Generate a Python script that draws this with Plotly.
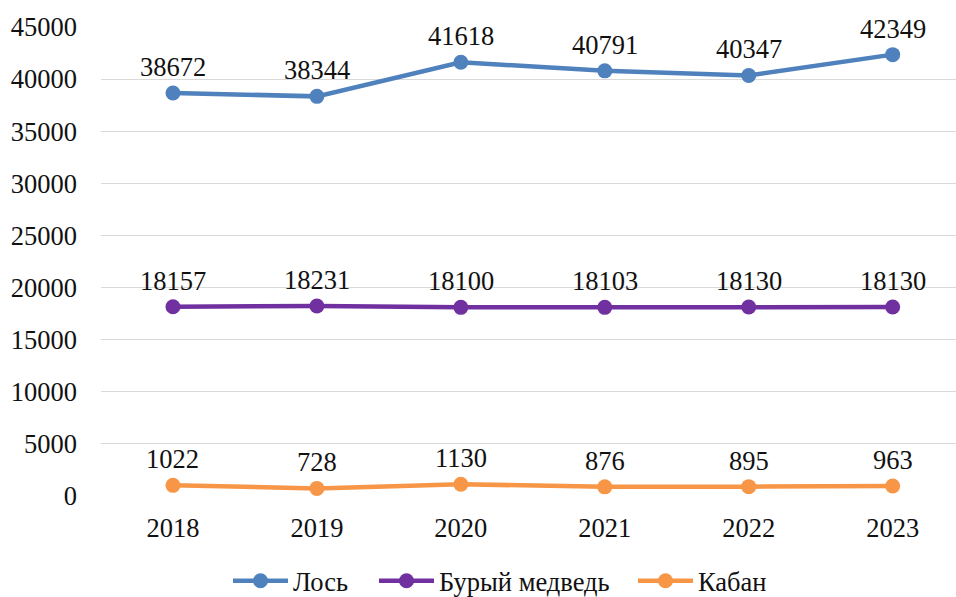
import plotly.graph_objects as go

years = ["2018", "2019", "2020", "2021", "2022", "2023"]
los = [38672, 38344, 41618, 40791, 40347, 42349]
medved = [18157, 18231, 18100, 18103, 18130, 18130]
kaban = [1022, 728, 1130, 876, 895, 963]
ytick_vals = [0, 5000, 10000, 15000, 20000, 25000, 30000, 35000, 40000, 45000]

series = [
    ("Лось", los, "#4F81BD", "legend", 228),
    ("Бурый медведь", medved, "#7030A0", "legend2", 374),
    ("Кабан", kaban, "#F79646", "legend3", 633),
]

FONT = "Liberation Serif, Times New Roman, serif"
FS = 26.5
TXT = "#111111"
fig = go.Figure()
xs = list(range(len(years)))
legends = {}
for name, vals, color, leg, lx in series:
    fig.add_trace(go.Scatter(
        x=xs, y=vals, name=name, mode="lines+markers",
        line=dict(color=color, width=4.5),
        marker=dict(color=color, size=15),
        legend=leg,
    ))
    legends[leg] = dict(orientation="h", xref="container", x=lx / 956, xanchor="left",
                        yref="container", y=1 - 581 / 597, yanchor="middle",
                        font=dict(family=FONT, size=FS, color=TXT), itemwidth=55,
                        bgcolor="rgba(0,0,0,0)")
    for xi, v in zip(xs, vals):
        fig.add_annotation(x=xi, y=v, text=str(v), showarrow=False,
                           xref="x", yref="y", yshift=26,
                           font=dict(family=FONT, size=FS, color=TXT))

fig.update_layout(
    width=956, height=597,
    margin=dict(l=101, r=0, t=27, b=101, autoexpand=False),
    plot_bgcolor="white", paper_bgcolor="white",
    font=dict(family=FONT, size=FS, color=TXT),
    showlegend=True,
    **legends,
)
fig.update_xaxes(
    tickmode="array", tickvals=xs, ticktext=years,
    range=[-0.5, 5.44], showgrid=False, zeroline=False, showline=False,
    ticks="", ticklabelstandoff=13,
    tickfont=dict(family=FONT, size=FS, color=TXT),
)
fig.update_yaxes(
    range=[0, 45000], tickmode="array", tickvals=ytick_vals,
    ticktext=[str(v) for v in ytick_vals],
    showgrid=True, gridcolor="#D9D9D9", gridwidth=1, zeroline=False,
    ticks="", ticklabelstandoff=23,
    tickfont=dict(family=FONT, size=FS, color=TXT),
)
fig.write_html("out.html")
